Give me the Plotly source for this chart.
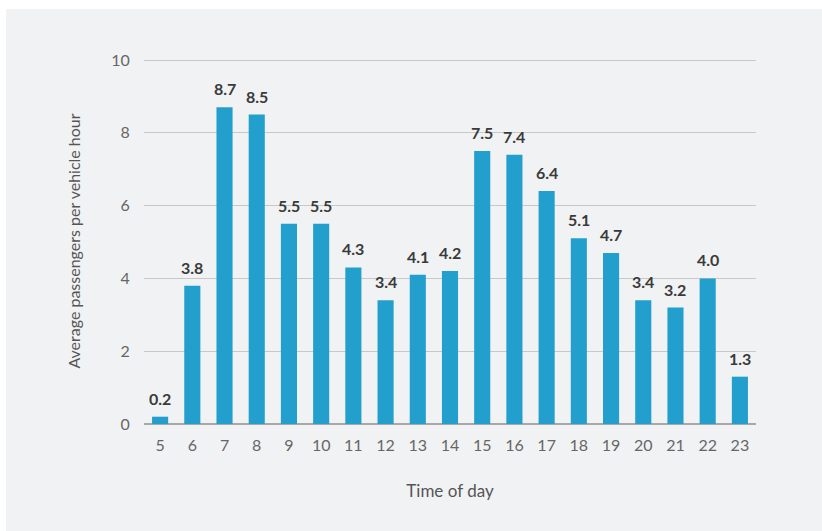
import plotly.graph_objects as go

hours = [str(h) for h in range(5, 24)]
passengers = [0.2, 3.8, 8.7, 8.5, 5.5, 5.5, 4.3, 3.4, 4.1, 4.2,
              7.5, 7.4, 6.4, 5.1, 4.7, 3.4, 3.2, 4.0, 1.3]
y_ticks = [0, 2, 4, 6, 8, 10]

W, H = 822, 531
L, R, T, B = 144, 66, 58, 107
pw, ph = W - L - R, H - T - B
y_top = 10 + 2 / 36.4  # a little headroom so the 10 gridline is drawn

fig = go.Figure(go.Bar(
    x=hours,
    y=passengers,
    marker=dict(color="#239fce", line=dict(width=0)),
    cliponaxis=False,
))

# value labels above each bar (x given as category index)
for i, v in enumerate(passengers):
    fig.add_annotation(
        x=i, y=v, text=f"{v:.1f}", showarrow=False,
        yanchor="bottom", yshift=7,
        font=dict(family="Lato", size=16, color="#3a3a3a", weight="bold"),
    )

# light gray panel behind the whole chart
fig.add_shape(
    type="rect", xref="paper", yref="paper", layer="below",
    x0=(6 - L) / pw, x1=(W + 2 - L) / pw,
    y0=-(B + 2) / ph, y1=(ph + T - 9) / ph,
    fillcolor="#f1f2f4", line=dict(width=0),
)

fig.update_layout(
    width=W, height=H,
    margin=dict(l=L, r=R, t=T, b=B),
    paper_bgcolor="white",
    plot_bgcolor="rgba(0,0,0,0)",
    bargap=0.5,
    showlegend=False,
    font=dict(family="Lato", color="#666666"),
    xaxis=dict(
        type="category",
        categoryorder="array", categoryarray=hours,
        tickfont=dict(size=16, color="#666666"),
        showgrid=False,
        ticks="outside", ticklen=7, tickcolor="rgba(0,0,0,0)",
        title=dict(text="Time of day", font=dict(size=17, color="#555555"), standoff=31),
    ),
    yaxis=dict(
        range=[0, y_top],
        tickvals=y_ticks,
        tickfont=dict(size=16, color="#666666"),
        gridcolor="#c8c8c8", gridwidth=1,
        zeroline=True, zerolinecolor="#a8a8a8", zerolinewidth=1.5,
        ticks="outside", ticklen=10, tickcolor="rgba(0,0,0,0)",
        title=dict(text="Average passengers per vehicle hour", font=dict(size=16, color="#555555"), standoff=26),
    ),
)

fig.write_html("out.html")
